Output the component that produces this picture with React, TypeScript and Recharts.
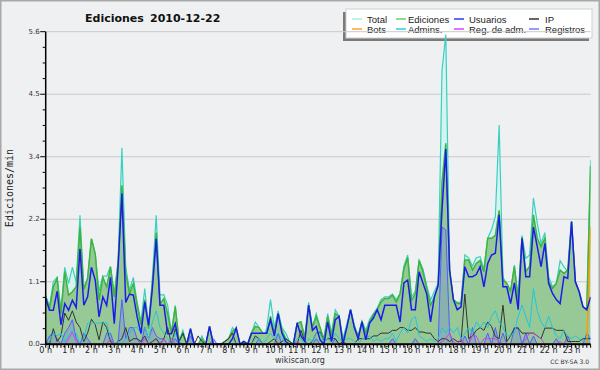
import React from 'react';
import { ComposedChart, Area, Line, XAxis, YAxis, CartesianGrid } from 'recharts';

// ---- data (edits per minute, one value every 10 minutes, 0:00 .. 23:50) ----
const TOTAL = [
  0.88, 0.68, 1.12, 1.2, 0.6, 1.38,
  1.09, 1.38, 1.12, 2.31, 1.0, 1.18,
  1.89, 1.62, 0.95, 1.22, 1.22, 1.4,
  0.9, 1.5, 3.52, 1.38, 0.97, 1.2,
  0.75, 0.4, 1.0, 0.3, 1.2, 2.31,
  0.88, 0.89, 0.7, 0.2, 0.7, 0.05,
  0.25, 0.0, 0.28, 0.0, 0.0, 0.15,
  0.0, 0.32, 0.0, 0.0, 0.0, 0.05,
  0.1, 0.3, 0.2, 0.0, 0.05, 0.0,
  0.2, 0.4, 0.3, 0.05, 0.3, 0.8,
  0.3, 0.6, 0.3, 0.2, 0.05, 0.0,
  0.38, 0.4, 0.15, 0.75, 0.3, 0.55,
  0.3, 0.1, 0.55, 0.2, 0.62, 0.5,
  0.1, 0.35, 0.62, 0.35, 0.15, 0.42,
  0.25, 0.45, 0.55, 0.65, 0.8, 0.85,
  0.85, 0.9, 0.8, 0.91, 1.4, 1.6,
  0.85, 0.95, 1.51, 1.35, 1.05, 0.79,
  0.95, 1.1, 4.9, 5.55, 1.33, 0.8,
  0.75, 0.75, 1.6, 1.55, 1.4, 1.55,
  1.57, 1.35, 1.9, 2.05, 2.29, 3.93,
  1.2, 1.09, 0.95, 1.42, 0.8, 1.95,
  1.54, 1.6, 2.62, 2.17, 1.81, 2.0,
  1.21, 1.03, 1.09, 1.5, 1.39, 1.3,
  2.2, 1.12, 0.94, 0.67, 0.62, 3.3,
];

const EDICIONES = [
  0.85, 0.64, 1.03, 1.18, 0.55, 1.3,
  0.88, 0.94, 1.03, 2.1, 0.98, 1.18,
  1.89, 1.62, 0.79, 1.2, 1.03, 1.38,
  0.85, 1.45, 2.85, 1.27, 0.91, 1.09,
  0.7, 0.35, 0.8, 0.28, 1.1, 2.0,
  0.72, 0.82, 0.55, 0.2, 0.67, 0.05,
  0.2, 0.0, 0.25, 0.0, 0.0, 0.1,
  0.0, 0.32, 0.0, 0.0, 0.0, 0.05,
  0.1, 0.23, 0.29, 0.0, 0.05, 0.0,
  0.2, 0.32, 0.3, 0.2, 0.2, 0.5,
  0.2, 0.55, 0.25, 0.1, 0.05, 0.0,
  0.38, 0.4, 0.1, 0.7, 0.3, 0.5,
  0.3, 0.08, 0.5, 0.15, 0.55, 0.5,
  0.05, 0.3, 0.62, 0.3, 0.15, 0.4,
  0.2, 0.4, 0.53, 0.62, 0.76, 0.82,
  0.82, 0.88, 0.76, 0.9, 1.35, 1.55,
  0.79, 0.9, 1.5, 1.3, 1.0, 0.7,
  0.85, 1.05, 2.9, 3.6, 1.3, 0.8,
  0.73, 0.73, 1.51, 1.51, 1.33, 1.45,
  1.5, 1.3, 1.9, 1.9, 1.95, 2.4,
  1.15, 1.09, 0.95, 1.39, 0.8, 1.92,
  1.3, 1.4, 2.32, 1.9, 1.75, 1.9,
  1.12, 1.0, 1.09, 1.33, 1.27, 1.33,
  2.2, 1.12, 0.94, 0.67, 0.62, 3.2,
];

const USUARIOS = [
  0.82, 0.61, 0.61, 0.95, 0.35, 0.73,
  0.61, 0.79, 0.66, 1.71, 0.7, 0.85,
  1.38, 1.15, 0.49, 0.85, 0.7, 1.2,
  0.37, 1.38, 2.7, 0.75, 0.9, 0.88,
  0.49, 0.19, 0.76, 0.34, 1.0, 1.89,
  0.7, 0.7, 0.19, 0.19, 0.37, 0.0,
  0.0, 0.0, 0.28, 0.0, 0.0, 0.0,
  0.0, 0.32, 0.0, 0.0, 0.0, 0.0,
  0.0, 0.1, 0.29, 0.0, 0.05, 0.0,
  0.2, 0.2, 0.2, 0.2, 0.2, 0.44,
  0.15, 0.55, 0.2, 0.05, 0.0, 0.0,
  0.38, 0.15, 0.05, 0.7, 0.25, 0.32,
  0.08, 0.0, 0.4, 0.05, 0.44, 0.5,
  0.0, 0.3, 0.62, 0.3, 0.1, 0.4,
  0.08, 0.38, 0.47, 0.62, 0.44, 0.7,
  0.7, 0.7, 0.7, 0.4, 1.1, 1.15,
  0.62, 0.62, 1.3, 1.1, 0.9, 0.4,
  0.85, 1.06, 2.4, 3.5, 1.33, 0.8,
  0.62, 0.67, 1.39, 1.21, 1.21, 1.25,
  1.39, 1.03, 1.45, 1.6, 1.63, 2.32,
  1.03, 1.03, 0.73, 1.1, 0.62, 1.9,
  1.21, 1.21, 2.1, 1.75, 1.39, 1.81,
  1.09, 0.91, 0.8, 0.73, 1.21, 1.18,
  2.2, 1.12, 0.94, 0.67, 0.62, 0.85,
];

const IP = [
  0.05, 0.0, 0.28, 0.05, 0.15, 0.56,
  0.43, 0.6, 0.4, 0.3, 0.05, 0.2,
  0.45, 0.35, 0.08, 0.4, 0.3, 0.05,
  0.0, 0.05, 0.1, 0.3, 0.05, 0.1,
  0.1, 0.05, 0.15, 0.0, 0.05, 0.1,
  0.0, 0.1, 0.3, 0.0, 0.28, 0.05,
  0.2, 0.0, 0.0, 0.0, 0.15, 0.05,
  0.0, 0.0, 0.0, 0.0, 0.0, 0.05,
  0.1, 0.2, 0.0, 0.0, 0.0, 0.0,
  0.0, 0.15, 0.1, 0.0, 0.0, 0.05,
  0.1, 0.0, 0.05, 0.1, 0.05, 0.0,
  0.0, 0.25, 0.05, 0.0, 0.05, 0.2,
  0.22, 0.05, 0.1, 0.1, 0.1, 0.0,
  0.05, 0.0, 0.0, 0.0, 0.1, 0.1,
  0.1, 0.1, 0.15, 0.15, 0.2, 0.2,
  0.2, 0.25, 0.25, 0.3, 0.3, 0.25,
  0.25, 0.3, 0.22, 0.22, 0.2, 0.2,
  0.1, 0.05, 0.1, 0.1, 0.05, 0.1,
  0.05, 0.05, 0.9, 0.1, 0.15, 0.25,
  0.3, 0.25, 0.4, 0.32, 0.14, 0.1,
  0.7, 0.05, 0.15, 0.29, 0.29, 0.2,
  0.2, 0.2, 0.2, 0.15, 0.1, 0.29,
  0.29, 0.29, 0.25, 0.25, 0.25, 0.05,
  0.05, 0.05, 0.05, 0.1, 0.1, 0.1,
];

const ADMINS = [
  0.0, 0.05, 0.2, 0.15, 0.2, 0.05,
  0.15, 0.25, 0.2, 0.0, 0.1, 0.38,
  0.38, 0.38, 0.38, 0.38, 0.38, 0.1,
  0.0, 0.05, 0.0, 0.1, 0.2, 0.3,
  0.3, 0.2, 0.3, 0.1, 0.4, 0.6,
  0.3, 0.2, 0.1, 0.0, 0.2, 0.05,
  0.0, 0.0, 0.0, 0.0, 0.0, 0.0,
  0.0, 0.0, 0.0, 0.0, 0.0, 0.0,
  0.0, 0.1, 0.0, 0.0, 0.0, 0.0,
  0.0, 0.1, 0.1, 0.0, 0.1, 0.2,
  0.1, 0.2, 0.1, 0.0, 0.0, 0.0,
  0.1, 0.1, 0.0, 0.1, 0.05, 0.2,
  0.2, 0.05, 0.1, 0.05, 0.2, 0.1,
  0.05, 0.1, 0.1, 0.05, 0.0, 0.1,
  0.1, 0.15, 0.05, 0.1, 0.05, 0.1,
  0.1, 0.2, 0.05, 0.2, 0.3, 0.2,
  0.45, 0.5, 0.15, 0.1, 0.05, 0.1,
  0.05, 0.1, 0.3, 0.2, 0.3, 0.2,
  0.3, 0.1, 0.2, 0.3, 0.2, 0.4,
  0.3, 0.4, 0.3, 0.5, 0.6, 0.4,
  0.3, 0.15, 0.15, 0.2, 0.5, 0.7,
  0.5, 0.3, 1.0, 0.6, 0.4, 0.3,
  0.5, 0.3, 0.15, 0.1, 0.25, 0.15,
  0.1, 0.15, 0.1, 0.05, 0.1, 0.15,
];

const REG_ADM = [
  0, 0, 0, 0, 0, 0,
  0.1, 0.22, 0.05, 0, 0, 0,
  0, 0, 0, 0, 0, 0.1,
  0, 0, 0, 0, 0, 0,
  0, 0, 0.1, 0, 0, 0,
  0, 0.1, 0, 0.1, 0, 0,
  0, 0, 0, 0, 0, 0,
  0, 0, 0, 0, 0, 0,
  0, 0, 0, 0, 0, 0,
  0, 0, 0, 0, 0, 0,
  0, 0, 0, 0, 0, 0,
  0.05, 0, 0, 0, 0, 0,
  0, 0, 0, 0, 0, 0,
  0, 0, 0, 0, 0, 0,
  0, 0, 0, 0, 0, 0,
  0, 0, 0, 0, 0, 0,
  0, 0, 0, 0, 0, 0,
  0, 0, 0.05, 0.1, 0.2, 0.05,
  0, 0.1, 0, 0, 0.15, 0.15,
  0, 0.1, 0.1, 0.1, 0.1, 0.05,
  0, 0, 0, 0, 0, 0,
  0.1, 0.2, 0.2, 0.15, 0.1, 0,
  0, 0, 0, 0.05, 0, 0,
  0, 0, 0, 0, 0, 0,
];

const REGISTROS = [
  0, 0.15, 0.2, 0.1, 0, 0.2,
  0.3, 0.44, 0.1, 0, 0.2, 0.1,
  0, 0, 0, 0, 0.2, 0.2,
  0, 0.05, 0.8, 0.1, 0.3, 0.3,
  0.1, 0, 0.31, 0.1, 0.3, 0.15,
  0.1, 0.1, 0, 0, 0.1, 0,
  0, 0, 0.15, 0, 0, 0,
  0, 0, 0.1, 0, 0, 0,
  0, 0, 0, 0, 0, 0,
  0, 0, 0.1, 0, 0, 0,
  0, 0.2, 0, 0, 0, 0,
  0, 0, 0, 0, 0, 0.1,
  0, 0, 0, 0, 0.1, 0,
  0, 0, 0, 0, 0, 0,
  0, 0, 0, 0, 0, 0,
  0, 0.1, 0, 0, 0, 0,
  0, 0.1, 0, 0, 0, 0,
  0, 0, 2.1, 2.05, 0.2, 0,
  0, 0, 0.15, 0, 0.3, 0,
  0, 0, 0.2, 0, 0.3, 0,
  0.2, 0, 0, 0.3, 0.3, 0,
  0.2, 0, 0.15, 0, 0, 0,
  0, 0, 0.1, 0, 0, 0.15,
  0, 0, 0, 0, 0.2, 0.1,
];

const BOTS = [
  0, 0, 0, 0, 0, 0,
  0, 0, 0, 0, 0, 0,
  0, 0, 0, 0, 0, 0,
  0, 0, 0, 0, 0, 0,
  0, 0, 0, 0, 0, 0,
  0, 0, 0, 0, 0, 0,
  0, 0, 0, 0, 0, 0,
  0, 0, 0, 0, 0, 0,
  0, 0, 0, 0, 0, 0,
  0, 0, 0, 0, 0, 0,
  0, 0, 0, 0, 0, 0,
  0, 0, 0, 0, 0, 0,
  0, 0, 0, 0, 0, 0,
  0, 0, 0, 0, 0, 0,
  0, 0, 0, 0, 0, 0,
  0, 0, 0, 0, 0, 0,
  0, 0, 0, 0, 0, 0,
  0, 0, 0, 0, 0, 0,
  0, 0, 0, 0, 0, 0,
  0, 0, 0, 0, 0, 0,
  0, 0, 0, 0, 0, 0,
  0, 0, 0, 0, 0, 0,
  0, 0, 0, 0, 0, 0,
  0, 0, 0, 0, 0, 2.1,
];

const HOUR_LABELS = [
  '0 h', '1 h', '2 h', '3 h', '4 h', '5 h', '6 h', '7 h', '8 h', '9 h', '10 h', '11 h',
  '12 h', '13 h', '14 h', '15 h', '16 h', '17 h', '18 h', '19 h', '20 h', '21 h', '22 h', '23 h',
];

const Y_TICKS = [0, 0.28, 0.56, 0.84, 1.12, 1.4, 1.68, 1.96, 2.24, 2.52, 2.8, 3.08, 3.36, 3.64, 3.92, 4.2, 4.48, 4.76, 5.04, 5.32, 5.6];
const Y_LABELS = ['0.0', '1.1', '2.2', '3.4', '4.5', '5.6'];
const GRID_VALUES = [1.12, 2.24, 3.36, 4.48, 5.6];

const LEGEND = [
  { name: 'Total', color: '#a6eee2' },
  { name: 'Ediciones', color: '#6fcc6f' },
  { name: 'Usuarios', color: '#3535ff' },
  { name: 'IP', color: '#333333' },
  { name: 'Bots', color: '#ffa030' },
  { name: 'Admins.', color: '#30ccdf' },
  { name: 'Reg. de adm.', color: '#dd40ff' },
  { name: 'Registros', color: '#7777ff' },
];

const TITLE = 'Ediciones';
const DATE = '2010-12-22';

const data = TOTAL.map((t, k) => ({
  i: k,
  total: t,
  ediciones: EDICIONES[k],
  usuarios: USUARIOS[k],
  ip: IP[k],
  admins: ADMINS[k],
  regadm: REG_ADM[k],
  registros: REGISTROS[k],
  bots: BOTS[k],
}));

const X_TICKS = data.map((d) => d.i);

const FONT = 'DejaVu Sans, Verdana, sans-serif';
const BG = '#eff0f1';

const XTick = (props: any) => {
  const { x, y, payload } = props;
  const v = payload.value as number;
  return (
    <g>
      <line x1={x} x2={x} y1={y} y2={y + 3.5} stroke="#000" strokeWidth={1} />
      {v % 6 === 0 ? (
        <text x={x} y={y + 9} textAnchor="middle" fontSize={8} fontFamily={FONT} fill="#222">
          {HOUR_LABELS[v / 6]}
        </text>
      ) : null}
    </g>
  );
};

const YTick = (props: any) => {
  const { x, y, index } = props;
  const major = index % 4 === 0;
  return (
    <g>
      <line x1={major ? x - 5.5 : x - 3} x2={x} y1={y} y2={y} stroke="#000" strokeWidth={1} />
      {major ? (
        <text x={x - 6} y={y + 2} textAnchor="end" fontSize={7} fontFamily={FONT} fill="#333">
          {Y_LABELS[index / 4]}
        </text>
      ) : null}
    </g>
  );
};

const Underlay = () => {
  const swatchX = [352, 396, 454, 529];
  const textX = [367, 408, 469, 545];
  const rows = [19, 29];
  return (
    <svg width={600} height={370} style={{ position: 'absolute', left: 0, top: 0 }}>
      <rect x={0.75} y={0.75} width={598.5} height={368.5} fill={BG} stroke="#a8a8a8" strokeWidth={1.5} />
      <text y={21.5} fontFamily={FONT} fontWeight="bold" fontSize={11} fill="#111">
        <tspan x={85}>{TITLE}</tspan>
        <tspan x={150}>{DATE}</tspan>
      </text>
      <rect x={343} y={12} width={246} height={29} fill="#7a7a7a" />
      <rect x={346} y={9} width={246} height={29} fill="#ffffff" stroke="#d0d0d0" strokeWidth={1} />
      {LEGEND.map((e, k) => {
        const col = k % 4;
        const cy = rows[Math.floor(k / 4)];
        return (
          <g key={e.name}>
            <line x1={swatchX[col]} x2={swatchX[col] + 10} y1={cy} y2={cy} stroke={e.color} strokeWidth={1.5} />
            <text x={textX[col]} y={cy + 3.5} fontFamily="Liberation Sans, Arial, sans-serif" fontSize={9.5} fill="#222">
              {e.name}
            </text>
          </g>
        );
      })}
      <text
        x={13}
        y={188}
        transform="rotate(-90 13 188)"
        textAnchor="middle"
        fontFamily="DejaVu Sans Mono, monospace"
        fontSize={10}
        fill="#222"
      >
        Ediciones/min
      </text>
      <text x={300} y={363} textAnchor="middle" fontFamily={FONT} fontSize={8} fill="#333">
        wikiscan.org
      </text>
      <text x={589} y={364} textAnchor="end" fontFamily={FONT} fontSize={6} fill="#333">
        CC BY-SA 3.0
      </text>
    </svg>
  );
};

export default function App() {
  return (
    <div style={{ position: 'fixed', left: 0, top: 0, width: 600, height: 370 }}>
      <Underlay />
      <div style={{ position: 'absolute', left: 0, top: 0 }}>
        <ComposedChart
          width={600}
          height={370}
          data={data}
          margin={{ top: 31.7, right: 9.4, bottom: 0, left: 0 }}
        >
          <CartesianGrid vertical={false} horizontalValues={GRID_VALUES} stroke="#c9c9c9" strokeWidth={1} />
          <Area
            type="linear"
            dataKey="total"
            stroke="#38d0c0"
            strokeWidth={1.2}
            fill="#d6f3ee"
            fillOpacity={1}
            dot={false}
            activeDot={false}
            isAnimationActive={false}
          />
          <Area
            type="linear"
            dataKey="ediciones"
            stroke="#3db43d"
            strokeWidth={1.5}
            fill="#97c997"
            fillOpacity={1}
            dot={false}
            activeDot={false}
            isAnimationActive={false}
          />
          <Line type="linear" dataKey="bots" stroke="#ff9a00" strokeWidth={1.5} dot={false} activeDot={false} isAnimationActive={false} />
          <Area
            type="linear"
            dataKey="registros"
            stroke="#5a5aff"
            strokeWidth={1}
            fill="#5a5aff"
            fillOpacity={0.22}
            dot={false}
            activeDot={false}
            isAnimationActive={false}
          />
          <Line type="linear" dataKey="ip" stroke="#333333" strokeWidth={1} dot={false} activeDot={false} isAnimationActive={false} />
          <Line type="linear" dataKey="admins" stroke="#22c5dd" strokeWidth={1} dot={false} activeDot={false} isAnimationActive={false} />
          <Line type="linear" dataKey="regadm" stroke="#cc44ee" strokeWidth={1} dot={false} activeDot={false} isAnimationActive={false} />
          <Line type="linear" dataKey="usuarios" stroke="#1c1ce8" strokeWidth={1.5} dot={false} activeDot={false} isAnimationActive={false} />
          <XAxis
            dataKey="i"
            type="number"
            domain={[0, 143]}
            ticks={X_TICKS}
            interval={0}
            tickSize={0}
            tickMargin={0}
            tickLine={false}
            tick={<XTick />}
            axisLine={{ stroke: '#000', strokeWidth: 2 }}
            height={25.7}
            allowDataOverflow
          />
          <YAxis
            type="number"
            domain={[0, 5.6]}
            ticks={Y_TICKS}
            interval={0}
            tickSize={0}
            tickMargin={0}
            tickLine={false}
            tick={<YTick />}
            axisLine={{ stroke: '#000', strokeWidth: 1.5 }}
            width={45.7}
            allowDataOverflow
          />
        </ComposedChart>
      </div>
    </div>
  );
}
